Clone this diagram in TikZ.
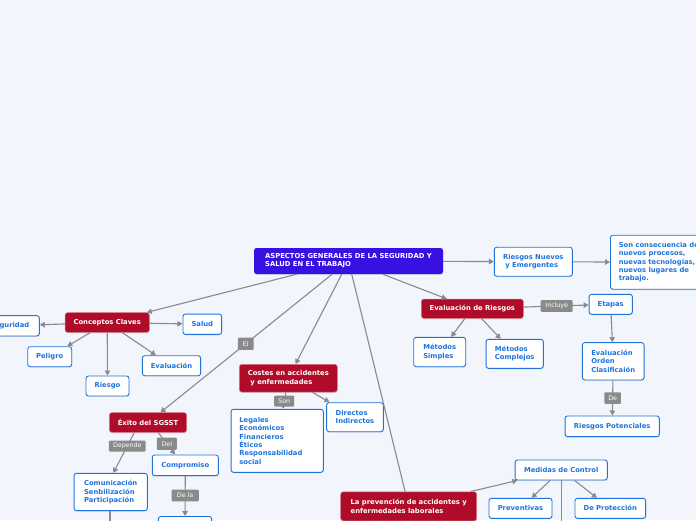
\documentclass[tikz,border=0pt]{standalone}
\usepackage{fontspec}
\usetikzlibrary{arrows.meta,shadows,calc}
\newfontfamily\dvfam{DejaVu Sans}
\newcommand\nodefnt{\fontsize{6.8}{8.3}\selectfont\dvfam\bfseries}
\newcommand\labfnt{\fontsize{6.3}{7}\selectfont\dvfam}
\definecolor{bgc}{RGB}{243,245,253}
\definecolor{rootc}{RGB}{56,16,226}
\definecolor{cred}{RGB}{176,12,42}
\definecolor{bblue}{RGB}{30,116,220}
\definecolor{lineg}{RGB}{138,138,142}
\definecolor{labg}{RGB}{138,138,138}
\tikzset{
  base/.style={rounded corners=2.5pt, font=\nodefnt, inner ysep=0pt, inner xsep=0pt, align=left,
    drop shadow={shadow xshift=0.4pt, shadow yshift=-0.9pt, opacity=0.22}},
  wbox/.style={base, draw=bblue, fill=white, text=bblue, line width=0.9pt},
  rbox/.style={base, draw=cred!55!white, line width=0.5pt, fill=cred, text=white},
  rootbox/.style={base, fill=rootc, text=white},
  lab/.style={fill=labg, text=white, font=\labfnt, inner sep=0pt, rounded corners=1pt},
  conn/.style={draw=lineg, line width=1.1pt},
  arr/.style={conn, -{Triangle[length=5pt,width=5.5pt]}},
}
\begin{document}
\begin{tikzpicture}[x=1pt,y=-1pt]
\clip (0,0) rectangle (696,520);
\fill[bgc] (0,0) rectangle (696,520);

% nodes
\node[rootbox, minimum width=189pt, minimum height=26pt] (root) at (348.5,261) {ASPECTOS GENERALES DE LA SEGURIDAD Y\\SALUD EN EL TRABAJO};
\node[wbox, minimum width=78pt, minimum height=29pt] (rne) at (533.3,261.7) {Riesgos Nuevos\\\hspace*{2.3pt}y Emergentes};
\node[wbox, anchor=west, minimum height=54pt, inner xsep=8.3pt] (scon) at (610,262.2) {Son consecuencia de\\nuevos procesos,\\nuevas tecnologías,\\nuevos lugares de\\trabajo.};
\node[rbox, minimum width=102pt, minimum height=19.3pt, align=center] (er) at (472.3,308.7) {Evaluación de Riesgos};
\node[wbox, minimum width=43.3pt, minimum height=20pt, align=center] (et) at (610.7,304.3) {Etapas};
\node[wbox, minimum width=52pt, minimum height=29.4pt] (ms) at (439.7,352) {Métodos\\Simples};
\node[wbox, minimum width=57.3pt, minimum height=29pt] (mc) at (514.7,353.8) {Métodos\\Complejos};
\node[wbox, minimum width=61.7pt, minimum height=37.3pt] (eoc) at (613.2,361.3) {Evaluación\\Orden\\Clasificaión};
\node[wbox, minimum width=94.3pt, minimum height=20.7pt, align=center] (rp) at (612.2,426.3) {Riesgos Potenciales};
\node[wbox, minimum width=92.3pt, minimum height=20pt, align=center] (mdc) at (561.2,470) {Medidas de Control};
\node[wbox, minimum width=63pt, minimum height=20pt, align=center] (prev) at (520.5,508.3) {Preventivas};
\node[wbox, minimum width=70.7pt, minimum height=20pt, align=center] (prot) at (610.3,508.3) {De Protección};
\node[rbox, minimum width=136pt, minimum height=29pt] (pae) at (408.7,506.3) {La prevención de accidentes y\\enfermedades laborales};
\node[rbox, minimum width=98pt, minimum height=27.7pt] (cae) at (288.3,378.2) {Costes en accidentes\\\hspace*{2.7pt}y enfermedades};
\node[wbox, text width=75.7pt, inner xsep=8.3pt, minimum height=63pt] (leg) at (277.2,440.8) {Legales\\Económicos\\Financieros\\Éticos\\Responsabilidad\\social};
\node[wbox, minimum width=56.7pt, minimum height=29pt] (di) at (355,417.2) {Directos\\Indirectos};
\node[rbox, minimum width=77.3pt, minimum height=19.7pt, align=center] (exi) at (148,422.5) {Éxito del SGSST};
\node[wbox, minimum width=66pt, minimum height=20.7pt, align=center] (comp) at (185.3,465.3) {Compromiso};
\node[wbox, minimum width=53.3pt, minimum height=24pt, anchor=north] (dla) at (185,516) {};
\node[wbox, minimum width=73.3pt, minimum height=37.3pt] (csp) at (110.7,492) {Comunicación\\Senbilización\\Participación};
\node[rbox, minimum width=84.3pt, minimum height=19.7pt, align=center] (cc) at (107.2,322.5) {Conceptos Claves};
\node[wbox, minimum width=59.3pt, minimum height=20.3pt, align=center] (seg) at (9.7,325.8) {Seguridad};
\node[wbox, minimum width=38.7pt, minimum height=20.3pt, align=center] (sal) at (202.3,324.2) {Salud};
\node[wbox, minimum width=44pt, minimum height=20pt, align=center] (pel) at (49.7,356.7) {Peligro};
\node[wbox, minimum width=43pt, minimum height=20pt, align=center] (rie) at (107.5,386) {Riesgo};
\node[wbox, minimum width=58.3pt, minimum height=20pt, align=center] (eva) at (171.5,365.7) {Evaluación};
\coordinate (mdown) at (561.7,540);
\coordinate (cdown) at (110,540);

% connectors
\draw[arr] (root) -- (rne);
\draw[arr] (rne) -- (scon);
\draw[arr] (root) -- (er);
\draw[arr] (er) -- node[lab, minimum width=32pt, minimum height=11.7pt, pos=0.51] (inc) {Incluye} (et);
\draw[arr] (er) -- (ms);
\draw[arr] (er) -- (mc);
\draw[arr] (et) -- (eoc);
\draw[arr] (eoc) -- node[lab, minimum width=16.7pt, minimum height=11.7pt, pos=0.505] (de) {De} (rp);
\draw[conn] (root) -- (pae);
\draw[arr] (pae) -- (mdc);
\draw[arr] (mdc) -- (prev);
\draw[arr] (mdc) -- (prot);
\draw[conn] (mdc.south -| mdown) -- (mdown);
\draw[arr] (root) -- (cae);
\draw[arr] (cae) -- node[lab, minimum width=20pt, minimum height=11pt, pos=0.53] (son) {Son} (leg);
\draw[arr] (cae) -- (di);
\draw[arr] (root) -- node[lab, minimum width=15.7pt, minimum height=12.3pt, pos=0.503] (el) {El} (exi);
\draw[arr] ([xshift=-13.7pt]exi.south) -- node[lab, minimum width=36.7pt, minimum height=11pt, pos=0.335] (dep) {Depende} ([xshift=2.6pt]csp.north);
\draw[arr] ([xshift=10.3pt]exi.south) -- node[lab, minimum width=20pt, minimum height=12.3pt, pos=0.507] (del) {Del} ([xshift=-10.3pt]comp.north);
\draw[arr] (comp) -- node[lab, minimum width=27.3pt, minimum height=11.7pt, pos=0.484] (dela) {De la} (dla);
\draw[conn] (csp.south -| cdown) -- (cdown);
\draw[arr] (root) -- (cc);
\draw[arr] (cc) -- (seg);
\draw[arr] (cc) -- (sal);
\draw[arr] (cc) -- (pel);
\draw[arr] (cc) -- (rie);
\draw[arr] (cc) -- (eva);
\end{tikzpicture}
\end{document}
